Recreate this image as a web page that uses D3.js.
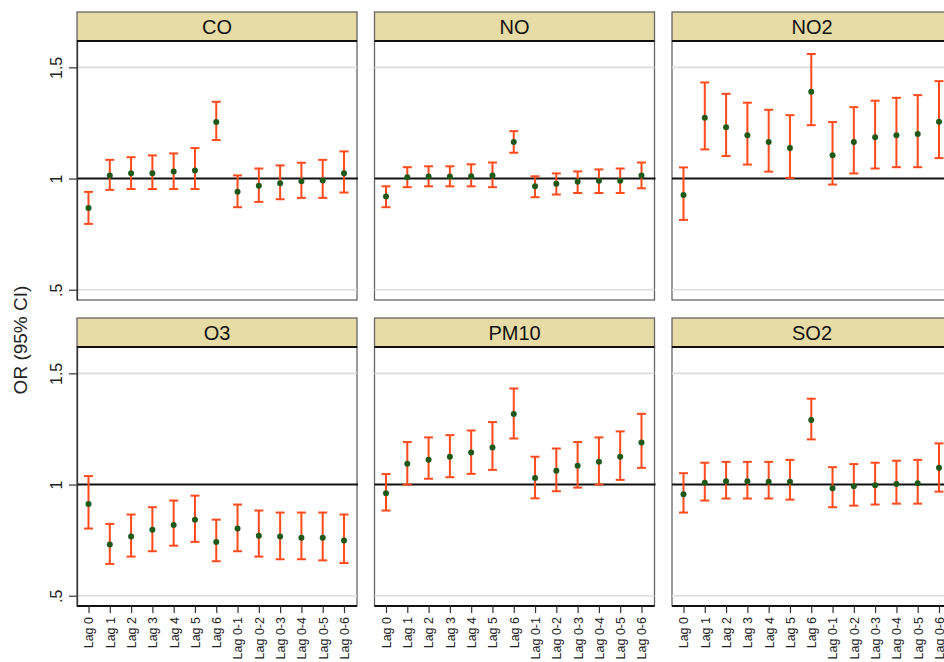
<!DOCTYPE html>
<html>
<head>
<meta charset="utf-8">
<script src="https://cdn.jsdelivr.net/npm/d3@7"></script>
<style>
  html, body { margin: 0; padding: 0; background: #fff; }
  svg { display: block; font-family: "Liberation Sans", Arial, sans-serif; }
</style>
</head>
<body>
<svg id="chart" width="944" height="662"></svg>
<script>
// Lag definitions (x categories)
const lags = ["Lag 0", "Lag 1", "Lag 2", "Lag 3", "Lag 4", "Lag 5", "Lag 6",
              "Lag 0-1", "Lag 0-2", "Lag 0-3", "Lag 0-4", "Lag 0-5", "Lag 0-6"];

// Pollutants, in panel order
const pollutants = ["CO", "NO", "NO2", "O3", "PM10", "SO2"];

// Odds ratios and 95% confidence limits per pollutant
const orCO   = [0.868, 1.014, 1.024, 1.024, 1.032, 1.036, 1.254, 0.941, 0.967, 0.979, 0.988, 0.991, 1.024];
const loCO   = [0.796, 0.949, 0.953, 0.953, 0.953, 0.953, 1.173, 0.871, 0.895, 0.907, 0.913, 0.913, 0.937];
const hiCO   = [0.940, 1.084, 1.096, 1.104, 1.113, 1.137, 1.345, 1.014, 1.045, 1.059, 1.071, 1.084, 1.122];

const orNO   = [0.919, 1.006, 1.009, 1.009, 1.010, 1.014, 1.164, 0.965, 0.977, 0.985, 0.990, 0.990, 1.014];
const loNO   = [0.871, 0.961, 0.965, 0.965, 0.965, 0.961, 1.116, 0.916, 0.928, 0.935, 0.935, 0.935, 0.956];
const hiNO   = [0.965, 1.051, 1.055, 1.055, 1.064, 1.072, 1.213, 1.010, 1.023, 1.032, 1.041, 1.045, 1.072];

const orNO2  = [0.926, 1.273, 1.231, 1.195, 1.164, 1.137, 1.390, 1.105, 1.164, 1.186, 1.195, 1.200, 1.255];
const loNO2  = [0.814, 1.131, 1.101, 1.063, 1.031, 1.003, 1.240, 0.973, 1.023, 1.045, 1.051, 1.051, 1.092];
const hiNO2  = [1.050, 1.432, 1.381, 1.341, 1.309, 1.285, 1.560, 1.254, 1.321, 1.350, 1.363, 1.375, 1.438];

const orO3   = [0.913, 0.730, 0.766, 0.797, 0.818, 0.842, 0.742, 0.802, 0.770, 0.766, 0.761, 0.761, 0.748];
const loO3   = [0.802, 0.643, 0.676, 0.700, 0.725, 0.742, 0.655, 0.700, 0.676, 0.664, 0.664, 0.659, 0.647];
const hiO3   = [1.038, 0.823, 0.865, 0.898, 0.928, 0.950, 0.842, 0.910, 0.883, 0.874, 0.874, 0.874, 0.865];

const orPM10 = [0.961, 1.093, 1.111, 1.125, 1.144, 1.167, 1.317, 1.029, 1.062, 1.084, 1.102, 1.125, 1.189];
const loPM10 = [0.883, 1.000, 1.026, 1.033, 1.048, 1.066, 1.207, 0.938, 0.970, 0.986, 1.000, 1.021, 1.075];
const hiPM10 = [1.047, 1.191, 1.212, 1.222, 1.243, 1.281, 1.432, 1.125, 1.162, 1.191, 1.212, 1.239, 1.318];

const orSO2  = [0.956, 1.008, 1.015, 1.015, 1.012, 1.012, 1.290, 0.983, 0.992, 0.997, 1.002, 1.006, 1.075];
const loSO2  = [0.874, 0.928, 0.937, 0.937, 0.937, 0.932, 1.203, 0.898, 0.905, 0.910, 0.914, 0.914, 0.968];
const hiSO2  = [1.051, 1.098, 1.102, 1.102, 1.102, 1.111, 1.386, 1.078, 1.092, 1.098, 1.107, 1.111, 1.185];

// Y-axis ticks and their labels
const yTicks = [0.5, 1, 1.5];
const yTickLabels = [".5", "1", "1.5"];
const yTitle = "OR (95% CI)";

// Assemble per-panel series
const series = {
  CO:   { or: orCO,   lo: loCO,   hi: hiCO },
  NO:   { or: orNO,   lo: loNO,   hi: hiNO },
  NO2:  { or: orNO2,  lo: loNO2,  hi: hiNO2 },
  O3:   { or: orO3,   lo: loO3,   hi: hiO3 },
  PM10: { or: orPM10, lo: loPM10, hi: hiPM10 },
  SO2:  { or: orSO2,  lo: loSO2,  hi: hiSO2 }
};

// Layout
const panelW = 280, plotH = 259, stripH = 29;
const colX = [77, 374.5, 672];
const rowY = [12, 318];          // top of the strip for each row
const nCols = 3;

const svg = d3.select("#chart");

const x = d3.scalePoint().domain(lags).range([11.5, 267]);
const y = d3.scaleLinear().domain([1 - 121 / 221.5, 1 + 137 / 221.5]).range([plotH, 0]);

const clr = {
  strip: "#e8dca6", frame: "#666666", grid: "#dcdcdc", ref: "#111111",
  bar: "#ff4a1c", dot: "#1d5a1a"
};

pollutants.forEach((name, idx) => {
  const col = idx % nCols, row = Math.floor(idx / nCols);
  const gx = colX[col], gyStrip = rowY[row], gyPlot = gyStrip + stripH;
  const s = series[name];

  // Strip with the pollutant name
  const strip = svg.append("g").attr("transform", `translate(${gx},${gyStrip})`);
  strip.append("rect").attr("width", panelW).attr("height", stripH)
    .attr("fill", clr.strip).attr("stroke", clr.frame).attr("stroke-width", 1.3);
  strip.append("text").attr("x", panelW / 2).attr("y", stripH / 2 + 7)
    .attr("text-anchor", "middle").attr("font-size", 20).attr("fill", "#111")
    .text(name);

  const g = svg.append("g").attr("transform", `translate(${gx},${gyPlot})`);

  // Plot region frame
  g.append("rect").attr("width", panelW).attr("height", plotH)
    .attr("fill", "#fff").attr("stroke", clr.frame).attr("stroke-width", 1.3);

  // Grid lines at .5 and 1.5
  g.selectAll("line.grid").data(yTicks.filter(v => v !== 1)).join("line")
    .attr("class", "grid")
    .attr("x1", 0).attr("x2", panelW)
    .attr("y1", d => y(d)).attr("y2", d => y(d))
    .attr("stroke", clr.grid).attr("stroke-width", 1.6);

  // Reference line at OR = 1
  g.append("line").attr("x1", 0).attr("x2", panelW + 1)
    .attr("y1", y(1)).attr("y2", y(1))
    .attr("stroke", clr.ref).attr("stroke-width", 2);

  // Black rule between strip and plot
  g.append("line").attr("x1", 0).attr("x2", panelW).attr("y1", 0).attr("y2", 0)
    .attr("stroke", "#111").attr("stroke-width", 2);

  // Y axis on the first column
  if (col === 0) {
    const ya = g.append("g").call(
      d3.axisLeft(y).tickValues(yTicks).tickSize(8).tickSizeOuter(0)
        .tickFormat((d, i) => yTickLabels[i]));
    ya.select(".domain").attr("stroke", "#333").attr("stroke-width", 1.3);
    ya.selectAll(".tick line").attr("stroke", "#333").attr("stroke-width", 1.2);
    ya.selectAll(".tick text")
      .attr("transform", "rotate(-90)")
      .attr("x", 0).attr("y", -15).attr("dy", 0)
      .attr("text-anchor", "middle")
      .attr("font-size", 16).attr("fill", "#222")
      .attr("font-family", "Liberation Sans, Arial, sans-serif");
  }

  // X axis on the bottom row
  if (row === 1) {
    const xa = g.append("g").attr("transform", `translate(0,${plotH})`)
      .call(d3.axisBottom(x).tickSize(7).tickSizeOuter(0));
    xa.select(".domain").attr("stroke", "#111").attr("stroke-width", 2)
      .attr("d", `M0,0H${panelW}`);
    xa.selectAll(".tick line").attr("stroke", "#333").attr("stroke-width", 1.2);
    xa.selectAll(".tick text")
      .attr("transform", "rotate(-90)")
      .attr("x", -11).attr("y", 0).attr("dy", "0.35em")
      .attr("text-anchor", "end")
      .attr("font-size", 12.5).attr("fill", "#222")
      .attr("font-family", "Liberation Sans, Arial, sans-serif");
  }

  // Confidence intervals with caps
  const cap = 4.5;
  const bars = g.append("g").selectAll("g").data(lags).join("g");
  bars.append("line")
    .attr("x1", d => x(d)).attr("x2", d => x(d))
    .attr("y1", (d, i) => y(s.lo[i])).attr("y2", (d, i) => y(s.hi[i]))
    .attr("stroke", clr.bar).attr("stroke-width", 2);
  bars.append("line")
    .attr("x1", d => x(d) - cap).attr("x2", d => x(d) + cap)
    .attr("y1", (d, i) => y(s.hi[i])).attr("y2", (d, i) => y(s.hi[i]))
    .attr("stroke", clr.bar).attr("stroke-width", 2);
  bars.append("line")
    .attr("x1", d => x(d) - cap).attr("x2", d => x(d) + cap)
    .attr("y1", (d, i) => y(s.lo[i])).attr("y2", (d, i) => y(s.lo[i]))
    .attr("stroke", clr.bar).attr("stroke-width", 2);

  // Point estimates
  g.append("g").selectAll("circle").data(lags).join("circle")
    .attr("cx", d => x(d)).attr("cy", (d, i) => y(s.or[i]))
    .attr("r", 3).attr("fill", clr.dot);
});

// Y-axis title
svg.append("text")
  .attr("transform", "translate(27,340) rotate(-90)")
  .attr("text-anchor", "middle").attr("font-size", 19).attr("fill", "#222")
  .text(yTitle);
</script>
</body>
</html>
